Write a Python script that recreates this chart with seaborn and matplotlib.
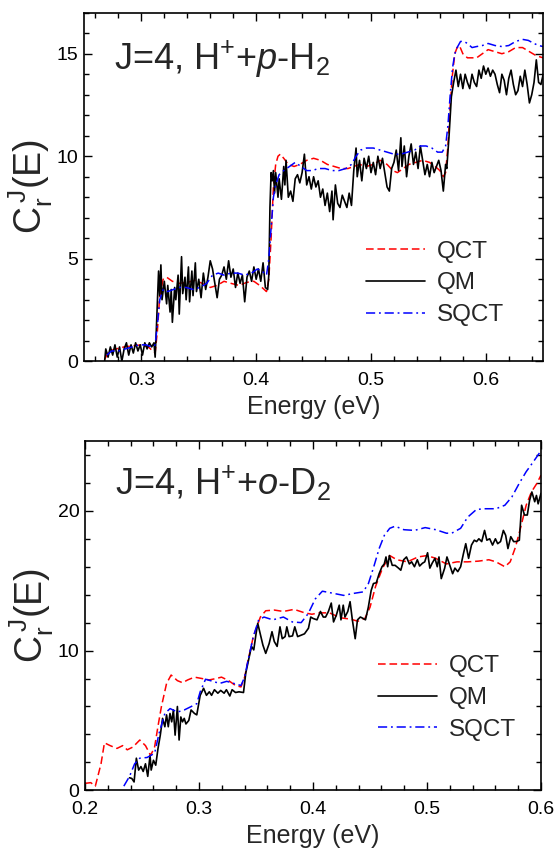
import numpy as np
import pandas as pd
import matplotlib
matplotlib.use("Agg")
import matplotlib.pyplot as plt
from matplotlib.ticker import MultipleLocator
import seaborn as sns

# ---------------- data: top panel (J=4, H+ + p-H2) ----------------
top_qct_e = [0.268, 0.272, 0.278, 0.285, 0.292, 0.300, 0.306, 0.310, 0.312, 0.314, 0.316, 0.319, 0.322,
             0.327, 0.333, 0.340, 0.347, 0.353, 0.360, 0.366, 0.372, 0.378, 0.385, 0.392, 0.398, 0.403,
             0.407, 0.409, 0.411, 0.413, 0.415, 0.417, 0.419, 0.421, 0.424, 0.428, 0.433, 0.438, 0.444,
             0.450, 0.456, 0.462, 0.468, 0.474, 0.480, 0.485, 0.490, 0.496, 0.502, 0.508, 0.514, 0.519,
             0.523, 0.528, 0.533, 0.539, 0.545, 0.551, 0.556, 0.560, 0.563, 0.565, 0.567, 0.569, 0.571,
             0.573, 0.575, 0.577, 0.580, 0.584, 0.588, 0.592, 0.597, 0.602, 0.608, 0.614, 0.620, 0.626,
             0.632, 0.638, 0.644, 0.650]
top_qct_c = [0.1, 0.5, 0.6, 0.7, 0.75, 0.8, 0.7, 0.5, 0.4, 1.5, 3.2, 4.0, 4.1,
             3.9, 3.8, 3.85, 3.95, 3.8, 3.6, 3.7, 3.9, 3.8, 3.7, 3.85, 3.9, 3.7,
             3.5, 3.4, 4.0, 6.0, 8.5, 9.6, 10.0, 10.1, 9.9, 9.6, 9.5, 9.6, 9.8,
             9.9, 9.8, 9.6, 9.5, 9.4, 9.4, 9.5, 9.6, 9.5, 9.6, 9.8, 9.6, 9.3,
             9.2, 9.4, 9.6, 9.7, 9.8, 9.7, 9.5, 9.3, 9.0, 9.2, 10.5, 12.5, 14.0,
             15.0, 15.3, 15.4, 15.0, 14.8, 14.8, 14.8, 15.0, 15.2, 15.1, 15.0, 15.1, 15.3,
             15.3, 15.1, 14.9, 14.8]

top_qm_e = [0.268, 0.269, 0.271, 0.273, 0.275, 0.277, 0.279, 0.281, 0.283, 0.285, 0.287, 0.289, 0.291,
            0.293, 0.295, 0.297, 0.299, 0.301, 0.303, 0.305, 0.307, 0.309, 0.311, 0.312, 0.313, 0.314,
            0.315, 0.316, 0.317, 0.318, 0.320, 0.322, 0.323, 0.325, 0.326, 0.327, 0.329, 0.330, 0.332,
            0.333, 0.335, 0.336, 0.338, 0.339, 0.341, 0.342, 0.344, 0.345, 0.347, 0.348, 0.350, 0.352,
            0.354, 0.356, 0.358, 0.360, 0.362, 0.364, 0.366, 0.368, 0.370, 0.372, 0.374, 0.376, 0.378,
            0.380, 0.382, 0.384, 0.386, 0.388, 0.390, 0.392, 0.394, 0.396, 0.398, 0.400, 0.402, 0.404,
            0.406, 0.408, 0.410, 0.411, 0.412, 0.413, 0.414, 0.415, 0.416, 0.417, 0.419, 0.420, 0.422,
            0.424, 0.425, 0.426, 0.428, 0.430, 0.432, 0.434, 0.436, 0.438, 0.440, 0.442, 0.444, 0.446,
            0.448, 0.450, 0.452, 0.454, 0.456, 0.458, 0.460, 0.462, 0.464, 0.466, 0.467, 0.469, 0.471,
            0.473, 0.475, 0.477, 0.479, 0.481, 0.483, 0.485, 0.487, 0.488, 0.490, 0.492, 0.494, 0.496,
            0.498, 0.500, 0.502, 0.504, 0.506, 0.508, 0.510, 0.512, 0.514, 0.516, 0.518, 0.520, 0.522,
            0.524, 0.526, 0.527, 0.529, 0.531, 0.533, 0.535, 0.537, 0.539, 0.541, 0.543, 0.545, 0.547,
            0.549, 0.551, 0.553, 0.555, 0.557, 0.559, 0.561, 0.563, 0.565, 0.566, 0.568, 0.570, 0.572,
            0.574, 0.576, 0.578, 0.580, 0.582, 0.584, 0.586, 0.588, 0.590, 0.592, 0.594, 0.596, 0.598,
            0.600, 0.602, 0.604, 0.606, 0.608, 0.610, 0.612, 0.614, 0.616, 0.618, 0.620, 0.622, 0.624,
            0.626, 0.628, 0.630, 0.632, 0.634, 0.636, 0.638, 0.640, 0.642, 0.644, 0.646, 0.648, 0.650]
top_qm_c = [0.0, 0.6, 0.2, 0.7, 0.3, 0.8, 0.2, 0.7, 0.0, 0.6, 0.9, 0.3, 0.8,
            0.4, 0.9, 0.5, 0.8, 0.3, 0.9, 0.6, 0.9, 0.7, 0.9, 0.2, 1.5, 3.0,
            4.4, 3.2, 4.7, 3.0, 3.9, 2.8, 3.7, 2.4, 3.5, 1.9, 3.6, 3.0, 4.2,
            2.3, 5.1, 3.3, 4.1, 3.0, 4.6, 2.9, 4.4, 3.2, 4.8, 3.4, 4.0, 3.1,
            4.3, 3.5, 4.1, 4.9, 4.5, 3.8, 3.1, 4.0, 4.2, 4.6, 4.0, 4.9, 4.1,
            4.5, 3.6, 4.3, 3.8, 4.2, 2.9, 4.1, 4.4, 3.9, 4.6, 4.0, 4.5, 3.9,
            4.8, 3.6, 3.5, 4.2, 7.5, 9.2, 8.8, 9.3, 8.2, 9.2, 8.0, 8.9, 7.9,
            9.5, 8.6, 9.8, 8.0, 8.3, 7.8, 8.9, 9.1, 8.7, 9.2, 10.1, 8.6, 9.0,
            8.4, 9.0, 8.5, 8.8, 8.0, 8.4, 7.6, 8.2, 7.3, 8.3, 6.9, 8.6, 7.7,
            7.5, 8.1, 7.8, 7.5, 8.2, 7.6, 9.3, 10.4, 9.0, 9.8, 8.8, 9.9, 9.4,
            10.0, 9.2, 9.7, 9.1, 10.0, 9.4, 9.9, 9.2, 8.5, 8.3, 9.4, 9.7, 10.3,
            9.3, 10.9, 9.5, 10.5, 9.0, 10.0, 10.6, 9.6, 10.2, 9.4, 10.5, 9.8, 9.1,
            9.6, 9.0, 9.7, 9.2, 9.5, 9.8, 9.3, 8.3, 9.6, 9.4, 11.0, 12.9, 13.6,
            14.2, 13.4, 14.0, 13.3, 14.0, 13.6, 13.3, 14.0, 13.6, 13.4, 14.2, 13.8, 14.4,
            14.0, 14.3, 13.9, 14.2, 14.0, 13.5, 13.1, 14.0, 13.7, 13.0, 13.8, 14.2, 13.5,
            13.0, 13.2, 13.9, 13.4, 14.2, 13.5, 12.6, 13.0, 13.6, 14.7, 13.6, 13.5, 14.0]

top_sqct_e = [0.270, 0.274, 0.280, 0.286, 0.292, 0.298, 0.304, 0.309, 0.312, 0.314, 0.316, 0.319, 0.323,
              0.328, 0.333, 0.339, 0.345, 0.351, 0.357, 0.362, 0.367, 0.372, 0.378, 0.384, 0.390, 0.396,
              0.401, 0.405, 0.409, 0.411, 0.413, 0.415, 0.417, 0.420, 0.424, 0.429, 0.434, 0.439, 0.444,
              0.449, 0.454, 0.460, 0.466, 0.472, 0.478, 0.483, 0.487, 0.491, 0.496, 0.502, 0.508, 0.514,
              0.520, 0.526, 0.532, 0.538, 0.543, 0.548, 0.553, 0.558, 0.562, 0.565, 0.567, 0.569, 0.571,
              0.573, 0.575, 0.578, 0.581, 0.584, 0.588, 0.592, 0.597, 0.602, 0.608, 0.614, 0.620, 0.626,
              0.632, 0.637, 0.642, 0.646, 0.650]
top_sqct_c = [0.3, 0.5, 0.5, 0.6, 0.7, 0.8, 0.8, 0.7, 0.8, 1.8, 3.0, 3.5, 3.4,
              3.5, 3.6, 3.6, 3.5, 3.6, 3.8, 4.2, 4.3, 4.2, 4.3, 4.3, 4.2, 4.3,
              4.5, 4.4, 4.2, 5.0, 6.5, 8.0, 8.6, 9.1, 9.3, 9.5, 9.7, 9.5, 9.3,
              9.3, 9.4, 9.4, 9.3, 9.3, 9.4, 9.6, 10.0, 10.3, 10.4, 10.4, 10.3, 10.2,
              10.1, 10.1, 10.2, 10.3, 10.5, 10.5, 10.4, 10.2, 10.2, 10.5, 11.5, 13.0, 14.3,
              15.0, 15.3, 15.6, 15.6, 15.5, 15.3, 15.35, 15.4, 15.5, 15.4, 15.35, 15.4, 15.6,
              15.7, 15.65, 15.5, 15.4, 15.35]

# ---------------- data: bottom panel (J=4, H+ + o-D2) ----------------
bot_qct_e = [0.200, 0.205, 0.209, 0.214, 0.217, 0.222, 0.228, 0.233, 0.237, 0.242, 0.248, 0.253, 0.2575,
             0.261, 0.264, 0.267, 0.2715, 0.2755, 0.281, 0.2855, 0.290, 0.296, 0.3026, 0.3088, 0.315,
             0.3197, 0.326, 0.332, 0.3368, 0.340, 0.343, 0.3476, 0.3538, 0.3585, 0.366, 0.374, 0.3834,
             0.3927, 0.399, 0.405, 0.4145, 0.4238, 0.433, 0.4393, 0.4455, 0.450, 0.4549, 0.461, 0.4673,
             0.4735, 0.4828, 0.4921, 0.500, 0.5077, 0.517, 0.5263, 0.5357, 0.545, 0.5543, 0.5605,
             0.5683, 0.573, 0.5776, 0.5823, 0.587, 0.5916, 0.5963, 0.600]
bot_qct_c = [0.5, 0.55, 0.3, 1.9, 3.4, 3.2, 3.0, 3.2, 2.9, 3.1, 3.6, 3.2, 2.5,
             3.1, 4.6, 6.0, 7.65, 8.25, 7.85, 7.7, 7.9, 8.1, 8.0, 7.9, 8.0,
             8.1, 7.85, 7.5, 7.4, 8.1, 9.3, 11.0, 12.4, 12.85, 12.9, 12.8, 12.95,
             12.7, 12.6, 12.7, 12.7, 12.35, 12.25, 12.1, 12.3, 13.1, 14.6, 15.9, 16.8,
             16.5, 16.35, 16.7, 16.8, 16.6, 16.2, 16.35, 16.35, 16.4, 16.5, 16.35,
             16.0, 16.35, 17.4, 18.85, 20.4, 21.35, 21.95, 22.55]

bot_qm_e = [0.239, 0.241, 0.243, 0.245, 0.247, 0.249, 0.251, 0.253, 0.255, 0.257, 0.258, 0.260, 0.262,
            0.264, 0.266, 0.268, 0.270, 0.2715, 0.273, 0.2745, 0.276, 0.2775, 0.279, 0.281, 0.2825,
            0.284, 0.2855, 0.287, 0.2885, 0.291, 0.293, 0.296, 0.298, 0.301, 0.304, 0.3065, 0.309,
            0.311, 0.3135, 0.3165, 0.319, 0.322, 0.324, 0.327, 0.329, 0.332, 0.335, 0.339, 0.341,
            0.344, 0.346, 0.348, 0.350, 0.3515, 0.354, 0.356, 0.3585, 0.3615, 0.364, 0.366, 0.3685,
            0.371, 0.373, 0.3755, 0.377, 0.379, 0.382, 0.384, 0.3865, 0.3895, 0.3925, 0.396, 0.398,
            0.400, 0.4035, 0.4065, 0.409, 0.411, 0.4135, 0.416, 0.418, 0.4205, 0.423, 0.4245, 0.4265,
            0.428, 0.4305, 0.4325, 0.4345, 0.437, 0.439, 0.4415, 0.444, 0.446, 0.4485, 0.451, 0.453,
            0.4555, 0.458, 0.4605, 0.4625, 0.464, 0.4655, 0.467, 0.4695, 0.472, 0.475, 0.477, 0.4795,
            0.482, 0.4845, 0.4865, 0.489, 0.4915, 0.4935, 0.496, 0.498, 0.5005, 0.5025, 0.5045, 0.507,
            0.509, 0.5105, 0.5125, 0.5155, 0.5175, 0.520, 0.5225, 0.5245, 0.527, 0.5295, 0.532, 0.534,
            0.5365, 0.539, 0.5415, 0.5435, 0.5455, 0.548, 0.5505, 0.5525, 0.555, 0.5575, 0.560, 0.562,
            0.5645, 0.567, 0.569, 0.571, 0.5735, 0.576, 0.5785, 0.581, 0.583, 0.5855, 0.588, 0.590,
            0.592, 0.5945, 0.596, 0.5975, 0.600]
bot_qm_c = [0.9, 0.85, 0.6, 2.3, 1.45, 1.7, 1.35, 1.9, 1.0, 2.5, 1.45, 2.15, 1.8,
            3.0, 3.95, 5.15, 4.55, 5.4, 4.55, 5.5, 4.9, 5.75, 3.95, 6.0, 3.6,
            5.25, 4.9, 5.15, 4.75, 5.0, 5.75, 5.5, 5.4, 6.8, 7.3, 6.8, 7.05,
            6.8, 7.2, 6.95, 7.15, 6.95, 7.2, 6.75, 7.2, 7.0, 7.05, 7.0, 8.4,
            9.55, 10.3, 10.05, 11.2, 11.95, 11.1, 10.4, 9.8, 10.5, 11.35, 10.65, 10.3,
            11.7, 10.85, 11.0, 11.7, 11.0, 11.05, 11.7, 11.0, 11.1, 11.2, 11.6, 12.4,
            12.3, 12.2, 12.8, 12.4, 12.4, 12.8, 13.4, 12.05, 12.55, 13.25, 12.2, 13.25,
            12.4, 12.8, 13.5, 12.2, 10.85, 12.2, 12.4, 12.3, 12.2, 13.1, 14.3, 14.8,
            14.85, 15.5, 16.0, 16.2, 16.7, 16.0, 16.8, 16.1, 16.1, 15.9, 15.75, 16.5,
            16.7, 16.2, 16.35, 16.0, 16.5, 16.05, 16.25, 16.35, 17.0, 15.9, 16.25, 16.6,
            16.0, 16.7, 15.15, 15.9, 16.7, 16.1, 15.5, 15.9, 15.65, 16.0, 16.95, 17.65,
            16.6, 17.55, 17.9, 17.8, 18.0, 17.8, 18.6, 17.9, 18.0, 17.55, 18.0, 17.65,
            17.8, 18.6, 18.25, 17.3, 18.15, 17.8, 17.8, 17.9, 20.4, 19.7, 19.7, 20.75,
            21.35, 20.65, 21.1, 20.5, 21.25]

bot_sqct_e = [0.234, 0.239, 0.2435, 0.248, 0.2544, 0.261, 0.265, 0.270, 0.2746, 0.281, 0.287, 0.2932,
              0.298, 0.301, 0.3057, 0.312, 0.318, 0.3243, 0.3305, 0.3368, 0.340, 0.343, 0.3476, 0.3523,
              0.357, 0.3647, 0.374, 0.3818, 0.3896, 0.3958, 0.402, 0.4082, 0.4176, 0.4269, 0.4362,
              0.444, 0.4486, 0.4533, 0.458, 0.4626, 0.4673, 0.472, 0.4797, 0.489, 0.4984, 0.5077,
              0.517, 0.5217, 0.5295, 0.5357, 0.5434, 0.5512, 0.5605, 0.5683, 0.5745, 0.5808, 0.587,
              0.5932, 0.600]
bot_sqct_c = [0.3, 1.0, 1.9, 2.3, 2.35, 2.65, 4.1, 5.5, 5.85, 5.6, 5.75, 6.0,
              6.2, 7.05, 7.95, 7.8, 7.65, 7.8, 7.65, 7.5, 8.1, 9.3, 11.0, 12.2,
              12.4, 12.2, 12.4, 12.05, 12.0, 12.65, 13.7, 14.25, 14.1, 13.95, 14.1,
              14.2, 14.8, 16.0, 17.3, 18.25, 18.75, 18.9, 18.65, 18.6, 18.8, 18.65,
              18.4, 18.4, 18.75, 19.55, 20.1, 20.15, 20.15, 20.4, 21.0, 21.95, 22.8,
              23.5, 24.3]

series_labels = ["QCT", "QM", "SQCT"]
panel_titles = [r"J=4, H$^{+}$+$\mathit{p}$-H$_{2}$", r"J=4, H$^{+}$+$\mathit{o}$-D$_{2}$"]

# ---------------- styling ----------------
sns.set_style("ticks")
plt.rcParams["font.family"] = ["Liberation Sans", "DejaVu Sans"]
plt.rcParams["mathtext.fontset"] = "custom"
plt.rcParams["mathtext.rm"] = "Liberation Sans"
plt.rcParams["mathtext.it"] = "Liberation Sans:italic"
plt.rcParams["mathtext.bf"] = "Liberation Sans:bold"

styles = {
    "QCT": dict(color="#ff0000", dashes=(5, 2.5), lw=1.1),
    "QM": dict(color="#000000", dashes=None, lw=1.2),
    "SQCT": dict(color="#0000ff", dashes=(6, 2.5, 1.2, 2.5), lw=1.1),
}

fig = plt.figure(figsize=(5.56, 8.48), dpi=100)
ax1 = fig.add_axes([0.151, 0.574, 0.826, 0.411])
ax2 = fig.add_axes([0.153, 0.068, 0.820, 0.412])


def draw(ax, data):
    for lab in series_labels:
        e, c = data[lab]
        df = pd.DataFrame({"Energy": e, "C": c})
        st = styles[lab]
        line_ax = sns.lineplot(data=df, x="Energy", y="C", ax=ax, color=st["color"],
                               lw=st["lw"], label=lab, estimator=None, sort=False)
        ln = line_ax.get_lines()[-1]
        if st["dashes"] is not None:
            ln.set_dashes(st["dashes"])


draw(ax1, {"QCT": (top_qct_e, top_qct_c), "QM": (top_qm_e, top_qm_c),
           "SQCT": (top_sqct_e, top_sqct_c)})
draw(ax2, {"QCT": (bot_qct_e, bot_qct_c), "QM": (bot_qm_e, bot_qm_c),
           "SQCT": (bot_sqct_e, bot_sqct_c)})

ax1.set_xlim(0.25, 0.65)
ax1.set_ylim(0, 17)
ax1.xaxis.set_major_locator(MultipleLocator(0.1))
ax1.xaxis.set_minor_locator(MultipleLocator(0.02))
ax1.yaxis.set_major_locator(MultipleLocator(5))
ax1.yaxis.set_minor_locator(MultipleLocator(1))

ax2.set_xlim(0.2, 0.6)
ax2.set_ylim(0, 25)
ax2.xaxis.set_major_locator(MultipleLocator(0.1))
ax2.xaxis.set_minor_locator(MultipleLocator(0.02))
ax2.yaxis.set_major_locator(MultipleLocator(10))
ax2.yaxis.set_minor_locator(MultipleLocator(2))

legend_anchor = [(0.615, 0.346), (0.643, 0.386)]
title_pos = [(0.065, 0.836), (0.065, 0.845)]

for i, ax in enumerate([ax1, ax2]):
    ax.set_xlabel("Energy (eV)", fontsize=18, labelpad=4)
    ax.set_ylabel(r"C$_{\mathrm{r}}^{\,\mathrm{J}}$(E)", fontsize=27, labelpad=1.5)
    ax.tick_params(which="both", direction="in", top=True, right=True, labelsize=14,
                   width=1.0, colors="black")
    ax.tick_params(which="major", length=6)
    ax.tick_params(which="minor", length=3.5)
    ax.tick_params(axis="x", which="major", pad=8)
    ax.tick_params(axis="y", which="major", pad=4)
    for sp in ax.spines.values():
        sp.set_linewidth(1.2)
        sp.set_color("black")
    ax.xaxis.set_major_formatter(matplotlib.ticker.FormatStrFormatter("%.1f"))
    ax.yaxis.set_major_formatter(matplotlib.ticker.FormatStrFormatter("%d"))
    leg = ax.legend(loc="upper left", bbox_to_anchor=legend_anchor[i], frameon=False,
                    fontsize=17.5, handlelength=2.4, handletextpad=0.5, labelspacing=0.4,
                    borderpad=0, borderaxespad=0)
    ax.text(title_pos[i][0], title_pos[i][1], panel_titles[i], transform=ax.transAxes,
            fontsize=26, va="baseline", ha="left")

fig.savefig("out.png", dpi=100)
